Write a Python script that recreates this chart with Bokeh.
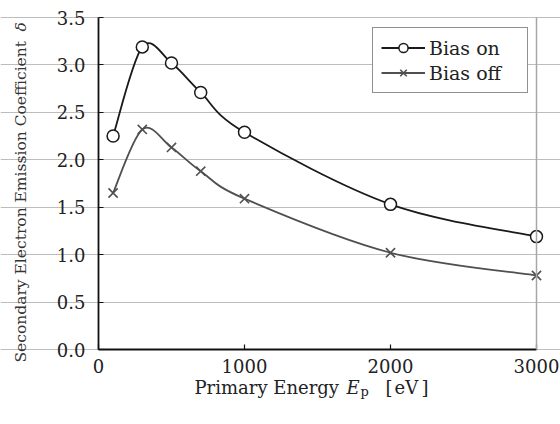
import math
from bokeh.plotting import figure
from bokeh.models import (Legend, LegendItem, Label, FixedTicker, NumeralTickFormatter,
                          Range1d, LinearAxis)
from bokeh.embed import file_html
from bokeh.resources import INLINE

# Primary energy (eV) and secondary electron emission coefficient
energy = [100, 300, 500, 700, 1000, 2000, 3000]
delta_bias_on = [2.25, 3.19, 3.02, 2.71, 2.29, 1.53, 1.19]
delta_bias_off = [1.65, 2.32, 2.13, 1.88, 1.59, 1.02, 0.78]

x_ticks = [0, 1000, 2000, 3000]
y_ticks = [0.0, 0.5, 1.0, 1.5, 2.0, 2.5, 3.0, 3.5]
X_MAX, Y_MAX = 3000, 3.5

FONT = "DejaVu Serif"
TEXT = "#222222"

# Canvas size and where the axes box sits on it (pixels)
W, H = 560, 424
BOX_L, BOX_R, BOX_T, BOX_B = 98, 536, 17, 349
kx = X_MAX / (BOX_R - BOX_L)
ky = Y_MAX / (BOX_B - BOX_T)


def sx(px):
    return (px - BOX_L) * kx


def sy(py):
    return (BOX_B - py) * ky


def smooth_segments(xs, ys):
    """Cubic Bezier segments (Catmull-Rom style) through every point."""
    n = len(xs)
    seg = dict(x0=[], y0=[], x1=[], y1=[], cx0=[], cy0=[], cx1=[], cy1=[])
    for i in range(n - 1):
        a = i - 1 if i > 0 else i
        b = i + 2 if i + 2 < n else i + 1
        seg["x0"].append(xs[i]); seg["y0"].append(ys[i])
        seg["x1"].append(xs[i + 1]); seg["y1"].append(ys[i + 1])
        seg["cx0"].append(xs[i] + (xs[i + 1] - xs[a]) / 6)
        seg["cy0"].append(ys[i] + (ys[i + 1] - ys[a]) / 6)
        seg["cx1"].append(xs[i + 1] - (xs[b] - xs[i]) / 6)
        seg["cy1"].append(ys[i + 1] - (ys[b] - ys[i]) / 6)
    return seg


# The frame covers the whole canvas so titles can be drawn as labels;
# the axes are pinned at x=0 / y=0 and bounded to the data box.
p = figure(width=W, height=H, output_backend="svg", toolbar_location=None,
           x_range=Range1d(sx(0), sx(W)), y_range=Range1d(sy(H), sy(0)),
           min_border=0)
p.background_fill_color = "white"
p.border_fill_color = "white"
p.outline_line_color = None

# grid: horizontal only, limited to the data box
p.xgrid.grid_line_color = None
p.ygrid.grid_line_color = "#bdbdbd"
p.ygrid.grid_line_width = 1
p.ygrid.bounds = (0, X_MAX)
p.ygrid.ticker = FixedTicker(ticks=y_ticks)

for ax in (p.xaxis[0], p.yaxis[0]):
    ax.fixed_location = 0
    ax.axis_line_color = "#111111"
    ax.axis_line_width = 1.8
    ax.major_tick_line_color = "#111111"
    ax.major_tick_line_width = 1.2
    ax.major_tick_in = 5
    ax.major_tick_out = 0
    ax.minor_tick_line_color = None
    ax.major_label_text_font = FONT
    ax.major_label_text_font_size = "18px"
    ax.major_label_text_color = TEXT

p.xaxis.bounds = (0, X_MAX)
p.yaxis.bounds = (0, Y_MAX)
p.xaxis.ticker = FixedTicker(ticks=x_ticks)
p.yaxis.ticker = FixedTicker(ticks=y_ticks)
p.yaxis.formatter = NumeralTickFormatter(format="0.0")
p.xaxis.major_label_standoff = 9
p.yaxis.major_label_standoff = 13

# light right-hand border of the data box
right_edge = LinearAxis(fixed_location=X_MAX, bounds=(0, Y_MAX),
                        ticker=FixedTicker(ticks=[]), axis_line_color="#a6a6a6",
                        axis_line_width=1.5, major_tick_line_color=None,
                        minor_tick_line_color=None, major_label_text_font_size="0px")
p.add_layout(right_edge, "right")

# smooth curves through the measured points
on_seg = smooth_segments(energy, delta_bias_on)
off_seg = smooth_segments(energy, delta_bias_off)
r_on_line = p.bezier(line_color="#1a1a1a", line_width=1.8, **on_seg)
r_off_line = p.bezier(line_color="#505050", line_width=1.8, **off_seg)

r_on_pts = p.scatter(energy, delta_bias_on, marker="circle", size=12,
                     fill_color="white", line_color="#1a1a1a", line_width=1.5)
r_off_pts = p.scatter(energy, delta_bias_off, marker="x", size=13,
                      line_color="#505050", line_width=1.6)

legend = Legend(items=[
    LegendItem(label="Bias on", renderers=[r_on_line, r_on_pts]),
    LegendItem(label="Bias off", renderers=[r_off_line, r_off_pts]),
], location=(372, H - 93))
legend.label_text_font = FONT
legend.label_text_font_size = "19px"
legend.label_text_color = TEXT
legend.border_line_color = "#222222"
legend.border_line_width = 1.5
legend.background_fill_color = "white"
legend.background_fill_alpha = 1
legend.padding = 8
legend.spacing = 2
legend.margin = 0
legend.glyph_width = 44
legend.glyph_height = 23
legend.label_height = 23
legend.label_width = 90
legend.label_standoff = 4
p.add_layout(legend)

# y-axis title (reads bottom to top), with an italic delta
p.add_layout(Label(x=sx(20), y=sy(362), text="Secondary Electron Emission Coefficient",
                   angle=math.pi / 2, text_font=FONT, text_font_size="15.5px",
                   text_color="#333333", text_align="left", text_baseline="middle"))
p.add_layout(Label(x=sx(20), y=sy(31), text="δ", angle=math.pi / 2,
                   text_font=FONT, text_font_style="italic", text_font_size="15.5px",
                   text_color="#333333", text_align="left", text_baseline="middle"))

# x-axis title with italic E and subscript p
ty = sy(387)
title_parts = [
    (194, ty, "Primary Energy", "normal", "18px"),
    (346, ty, "E", "italic", "18px"),
    (360, ty - 4 * ky, "p", "normal", "13px"),
    (385, ty, "[", "normal", "18px"),
    (394, ty, "eV", "normal", "18px"),
    (421, ty, "]", "normal", "18px"),
]
for px, ly, txt, style, size in title_parts:
    p.add_layout(Label(x=sx(px), y=ly, text=txt, text_font=FONT, text_font_style=style,
                       text_font_size=size, text_color=TEXT, text_baseline="middle"))

open("out.html", "w").write(file_html(p, INLINE))
